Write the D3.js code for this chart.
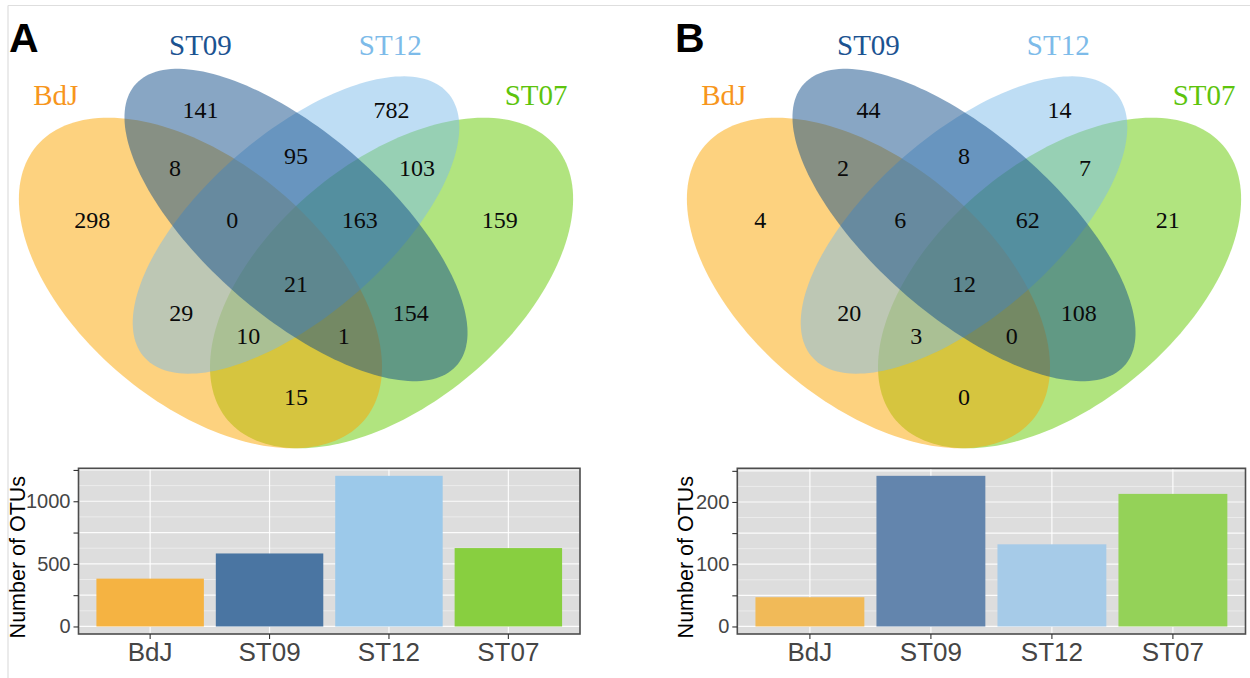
<!DOCTYPE html>
<html>
<head>
<meta charset="utf-8">
<script src="https://cdn.jsdelivr.net/npm/d3@7"></script>
<style>
  html, body { margin: 0; padding: 0; background: #fff; }
  svg { display: block; }
</style>
</head>
<body>
<svg id="fig" width="1250" height="678"></svg>
<script>
// ---- data -------------------------------------------------------------
const sets = ["BdJ", "ST09", "ST12", "ST07"];
const setColors = ["#FBA500", "#114D89", "#7DBBE9", "#64C900"];
const labelColors = ["#F7961C", "#1B5391", "#7DBBE9", "#5DC40C"];

// region labels: BdJ, ST09, ST12, ST07 only; pairwise; triples; all four
const regionNames = [
  "ST09", "ST09&ST12", "ST12", "BdJ&ST09", "BdJ&ST09&ST12",
  "ALL", "ST09&ST12&ST07", "ST12&ST07", "BdJ", "BdJ&ST12",
  "BdJ&ST12&ST07", "BdJ&ST07", "BdJ&ST09&ST07", "ST09&ST07", "ST07"
];
const regionCountsA = [141, 95, 782, 8, 0, 21, 163, 103, 298, 29, 10, 15, 1, 154, 159];
const regionCountsB = [44, 8, 14, 2, 6, 12, 62, 7, 4, 20, 3, 0, 0, 108, 21];

// OTUs per site (bar charts)
const totalsA = [382, 583, 1203, 626];
const totalsB = [47, 242, 132, 213];
const barColorsA = ["#F5B342", "#4A75A2", "#9CC9EA", "#88CF40"];
const barColorsB = ["#F1BA58", "#6385AD", "#A6CBE8", "#94D258"];

// ---- layout of the four-ellipse diagram (unit square coordinates) -----
const ellipses = {           // cx, cy, a, b, rotation (deg)
  BdJ:  [0.35, 0.47, 0.35, 0.20, 135],
  ST09: [0.50, 0.57, 0.35, 0.15, 135],
  ST12: [0.50, 0.57, 0.33, 0.15, 45],
  ST07: [0.65, 0.47, 0.35, 0.20, 45]
};
const drawOrder = ["ST07", "BdJ", "ST12", "ST09"];
const regionPos = [
  [0.350, 0.770], [0.500, 0.690], [0.650, 0.770], [0.310, 0.670], [0.400, 0.580],
  [0.500, 0.470], [0.600, 0.580], [0.690, 0.670], [0.180, 0.580], [0.320, 0.420],
  [0.425, 0.380], [0.500, 0.275], [0.575, 0.380], [0.680, 0.420], [0.820, 0.580]
];
const catPos = [[0.123, 0.777], [0.350, 0.863], [0.648, 0.863], [0.877, 0.777]];

const svg = d3.select("#fig");
svg.append("rect").attr("width", 1250).attr("height", 678).attr("fill", "#fff");

// thin frame along top and left
svg.append("line").attr("x1", 8).attr("x2", 1250).attr("y1", 5.5).attr("y2", 5.5)
  .attr("stroke", "#dedede").attr("stroke-width", 1.2);
svg.append("line").attr("x1", 8).attr("x2", 8).attr("y1", 5.5).attr("y2", 678)
  .attr("stroke", "#dedede").attr("stroke-width", 1.2);

function drawVenn(g, counts, cx) {
  const xV = d3.scaleLinear().domain([0, 1]).range([cx - 0.5 * 637, cx + 0.5 * 637]);
  const yV = d3.scaleLinear().domain([0, 1]).range([283 + 0.47 * 580, 283 - 0.53 * 580]);
  const line = d3.line().x(d => xV(d[0])).y(d => yV(d[1])).curve(d3.curveLinearClosed);
  const theta = d3.range(0, 360, 2).map(t => t * Math.PI / 180);

  drawOrder.forEach(name => {
    const [ex, ey, a, b, rot] = ellipses[name];
    const r = rot * Math.PI / 180;
    const pts = theta.map(t => [
      ex + a * Math.cos(t) * Math.cos(r) - b * Math.sin(t) * Math.sin(r),
      ey + a * Math.cos(t) * Math.sin(r) + b * Math.sin(t) * Math.cos(r)
    ]);
    g.append("path").attr("d", line(pts))
      .attr("fill", setColors[sets.indexOf(name)])
      .attr("fill-opacity", 0.5)
      .attr("stroke", "none");
  });

  g.selectAll("text.count").data(counts).enter().append("text")
    .attr("class", "count")
    .attr("x", (d, i) => xV(regionPos[i][0]))
    .attr("y", (d, i) => yV(regionPos[i][1]))
    .attr("dy", "0.36em")
    .attr("text-anchor", "middle")
    .attr("font-family", "Liberation Serif, Times New Roman, serif")
    .attr("font-size", 24)
    .attr("fill", "#0a0a0a")
    .text(d => d);

  g.selectAll("text.cat").data(sets).enter().append("text")
    .attr("class", "cat")
    .attr("x", (d, i) => xV(catPos[i][0]))
    .attr("y", (d, i) => yV(catPos[i][1]))
    .attr("text-anchor", "middle")
    .attr("font-family", "Liberation Serif, Times New Roman, serif")
    .attr("font-size", 29)
    .attr("fill", (d, i) => labelColors[i])
    .text(d => d);
}

function drawBars(g, totals, colors, box, step, labelStep, titleX) {
  const [left, right, top, bottom] = box;
  const maxV = d3.max(totals);
  const y = d3.scaleLinear().domain([-0.05 * maxV, 1.05 * maxV]).range([bottom, top]);
  const x = d3.scaleBand().domain(sets).range([left, right])
    .paddingInner(0.1).paddingOuter(0.15);

  g.append("rect").attr("x", left).attr("y", top)
    .attr("width", right - left).attr("height", bottom - top)
    .attr("fill", "#DDDDDD");

  // horizontal grid: minor lines halfway between ticks, major at ticks
  const half = d3.range(step / 2, 1.05 * maxV, step);
  g.selectAll("line.minor").data(half).enter().append("line")
    .attr("x1", left).attr("x2", right)
    .attr("y1", d => y(d)).attr("y2", d => y(d))
    .attr("stroke", "#fff").attr("stroke-opacity", 0.55).attr("stroke-width", 0.8);
  const major = d3.range(0, 1.05 * maxV, step);
  g.selectAll("line.major").data(major).enter().append("line")
    .attr("x1", left).attr("x2", right)
    .attr("y1", d => y(d)).attr("y2", d => y(d))
    .attr("stroke", "#fff").attr("stroke-opacity", 0.9).attr("stroke-width", 1.2);
  g.selectAll("line.vgrid").data(sets).enter().append("line")
    .attr("x1", d => x(d) + x.bandwidth() / 2).attr("x2", d => x(d) + x.bandwidth() / 2)
    .attr("y1", top).attr("y2", bottom)
    .attr("stroke", "#fff").attr("stroke-opacity", 0.9).attr("stroke-width", 1.2);

  g.selectAll("rect.bar").data(totals).enter().append("rect")
    .attr("class", "bar")
    .attr("x", (d, i) => x(sets[i]))
    .attr("width", x.bandwidth())
    .attr("y", d => y(d))
    .attr("height", d => y(0) - y(d))
    .attr("fill", (d, i) => colors[i]);

  g.append("rect").attr("x", left).attr("y", top)
    .attr("width", right - left).attr("height", bottom - top)
    .attr("fill", "none").attr("stroke", "#4d4d4d").attr("stroke-width", 1.6);

  const yAxis = d3.axisLeft(y).tickValues(major).tickSize(5).tickPadding(3)
    .tickFormat(d => d % labelStep === 0 ? d : "");
  const ya = g.append("g").attr("transform", `translate(${left},0)`).call(yAxis);
  ya.select(".domain").remove();
  ya.selectAll(".tick line").attr("stroke", "#333").attr("stroke-width", 1.1);
  ya.selectAll(".tick text").attr("font-family", "Liberation Sans, Arial, sans-serif")
    .attr("font-size", 20).attr("fill", "#454545");

  const xAxis = d3.axisBottom(x).tickSize(5).tickPadding(4);
  const xa = g.append("g").attr("transform", `translate(0,${bottom})`).call(xAxis);
  xa.select(".domain").remove();
  xa.selectAll(".tick line").attr("stroke", "#333").attr("stroke-width", 1.1);
  xa.selectAll(".tick text").attr("font-family", "Liberation Sans, Arial, sans-serif")
    .attr("font-size", 26).attr("fill", "#454545").attr("dy", "0.7em");

  g.append("text")
    .attr("transform", `translate(${titleX},${(top + bottom) / 2 + 6}) rotate(-90)`)
    .attr("text-anchor", "middle")
    .attr("font-family", "Liberation Sans, Arial, sans-serif")
    .attr("font-size", 21.5)
    .attr("fill", "#000")
    .text("Number of OTUs");
}

const gA = svg.append("g");
drawVenn(gA, regionCountsA, 296);
drawBars(gA, totalsA, barColorsA, [78.5, 580, 468.3, 634], 250, 500, 25);

const gB = svg.append("g");
drawVenn(gB, regionCountsB, 964);
drawBars(gB, totalsB, barColorsB, [737.3, 1245.5, 468.3, 634], 50, 100, 693);

// panel letters
[["A", 9], ["B", 675]].forEach(([t, x]) => {
  svg.append("text").attr("x", x).attr("y", 52)
    .attr("font-family", "Liberation Sans, Arial, sans-serif")
    .attr("font-weight", "bold").attr("font-size", 41).attr("fill", "#000")
    .text(t);
});
</script>
</body>
</html>
